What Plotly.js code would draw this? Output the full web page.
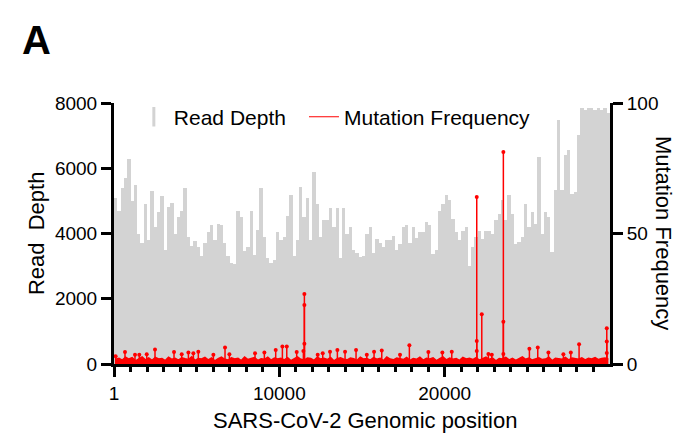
<!DOCTYPE html>
<html>
<head>
<meta charset="utf-8">
<script src="https://cdn.plot.ly/plotly-3.0.1.min.js"></script>
<style>html,body{margin:0;padding:0;background:#fff;}#chart{width:677px;height:438px;}</style>
</head>
<body>
<div id="chart"></div>
<script>
// Read depth, 200 bp bins starting at position 0
const binStart = 100;
const binWidth = 200;
const readDepth = [
5100,4700,5380,5700,6280,5000,5500,4000,3720,4900,
3800,5300,4200,4650,5140,3500,4800,4920,4000,4500,
4700,5400,3900,3630,3780,3600,3300,3700,4050,4250,
3800,4300,4250,3700,3300,3100,3050,4700,4500,3450,
3600,4680,3350,4100,5380,3900,3250,3100,3200,4050,
3800,3900,4540,5170,3300,3800,5420,4500,5100,3800,
5880,4900,3900,4400,4400,4770,4200,4770,3250,4770,
4000,4200,3500,3400,3270,3300,4000,4200,3400,3840,
3700,3580,3790,3800,3910,3500,3680,4200,4250,3700,
4200,3850,4040,4040,4350,4250,3380,3500,4700,4890,
5190,5020,4450,4040,3790,4090,4200,3000,3580,3900,
4090,3840,4090,4090,3990,4400,4600,5020,4400,5170,
4600,3680,3730,3900,4890,4200,4660,4300,6350,4000,
4660,4500,3430,5340,7480,5320,6400,6550,5220,5270,
7020,7840,7800,7840,7840,7800,7840,7790,7840,7700
];

// Background mutation frequency (%) in the same bins
const mutBase = [
1.8,2.2,1.5,2.6,1.9,2.4,1.2,2.0,2.7,1.6,
2.3,1.4,2.5,1.9,2.1,1.3,2.6,1.8,2.2,1.5,
2.4,2.0,1.7,2.8,1.4,2.1,1.9,2.5,1.6,2.3,
1.2,2.0,2.6,1.8,1.5,2.4,1.9,2.2,1.3,2.7,
1.7,2.1,2.5,1.4,2.0,1.8,2.6,1.5,2.3,1.9,
2.2,1.6,2.4,1.3,2.0,2.7,1.8,1.5,2.3,2.1,
1.4,2.6,1.9,2.2,1.7,2.5,1.2,2.0,2.4,1.8,
1.6,2.3,2.0,1.4,2.6,1.9,2.1,1.5,2.4,1.8,
2.2,1.3,2.7,1.9,1.6,2.3,2.0,1.7,2.5,1.4,
2.1,1.8,2.6,1.5,2.2,1.9,2.4,1.3,2.0,2.7,
1.6,2.3,1.8,2.1,1.4,2.5,1.9,2.2,1.7,2.4,
1.5,2.0,2.6,1.8,2.3,1.2,2.1,1.9,2.5,1.6,
2.2,1.4,2.0,2.7,1.8,2.3,1.5,2.1,2.4,1.7,
1.9,2.6,1.3,2.2,2.0,1.8,2.5,1.6,2.3,2.1,
1.8,2.4,1.6,2.2,1.9,2.5,1.7,2.1,2.3,1.9
];

// Mutation frequency peaks (position, %)
const peakPos = [100,665,1270,1530,1980,2480,3630,4095,4500,4800,5100,6010,6715,6980,8530,9095,9780,10185,10450,11050,11455,
11515,11515,11515,12320,12625,13065,13510,13975,14640,15290,15730,16195,17300,17865,19015,19860,20430,
21940,21940,21940,22245,22645,22850,23550,23550,23550,25125,25630,26275,27180,27630,28130,29805,29805,29805];
const peakFreq = [3.0,4.6,3.5,3.5,3.7,5.6,4.6,3.7,4.4,4.1,4.7,3.5,6.3,3.7,4.1,4.4,5.4,6.7,6.7,4.6,5.0,
26.8,22.6,7.8,3.5,4.1,4.7,5.4,4.7,5.4,3.5,4.7,5.2,3.5,7.2,4.6,4.4,4.7,
64.0,8.8,5.0,19.1,3.8,3.5,81.2,16.2,3.8,5.8,6.3,4.4,3.7,4.4,7.6,13.7,8.6,4.2];

const xTickVals = [1,10000,20000];
const xTickText = ['1','10000','20000'];
const yTickVals = [0,2000,4000,6000,8000];
const y2TickVals = [0,50,100];

const FONT = 'Liberation Sans, Arial, Helvetica, sans-serif';
const RED = '#ff0000';
const GRAY = '#d3d3d3';

const stemX = [], stemY = [];
peakPos.forEach((p,i)=>{ stemX.push(p,p,null); stemY.push(0,peakFreq[i],null); });

const minorVals = [];
for (let v = 1000; v < 30000; v += 1000) minorVals.push(v);

const traces = [
  {type:'bar', x0:binStart, dx:binWidth, y:readDepth, marker:{color:GRAY, line:{width:0}},
   showlegend:false, hoverinfo:'skip'},
  {type:'scatter', mode:'lines', x0:binStart, dx:binWidth, y:mutBase, yaxis:'y2',
   line:{color:RED, width:1.5}, fill:'tozeroy', fillcolor:RED, showlegend:false},
  {type:'scatter', mode:'lines', x:stemX, y:stemY, yaxis:'y2', line:{color:RED, width:1.5},
   showlegend:false, connectgaps:false},
  {type:'scatter', mode:'markers', x:peakPos, y:peakFreq, yaxis:'y2',
   marker:{color:RED, size:4}, showlegend:false},
  {type:'scatter', mode:'markers', x:[null], y:[null], name:'Read Depth', legend:'legend',
   marker:{symbol:'line-ns', size:14, line:{color:GRAY, width:3}, color:GRAY}},
  {type:'scatter', mode:'lines', x:[null], y:[null], yaxis:'y2', name:'Mutation Frequency', legend:'legend2',
   line:{color:RED, width:1.2}}
];

const axisCommon = {
  showline:true, linewidth:3, linecolor:'#000', ticks:'outside', ticklen:10, tickwidth:3,
  tickcolor:'#000', showgrid:false, zeroline:false, tickfont:{family:FONT, size:19, color:'#000'}
};

const legendCommon = {orientation:'h', xanchor:'left', y:0.946, yanchor:'middle',
  font:{family:FONT, size:21, color:'#000'}, bgcolor:'rgba(0,0,0,0)'};

const layout = {
  width:677, height:438,
  margin:{l:114, r:67, t:103, b:74},
  paper_bgcolor:'#fff', plot_bgcolor:'#fff',
  bargap:0,
  font:{family:FONT, color:'#000'},
  xaxis:Object.assign({}, axisCommon, {
    range:[0,30000], tickmode:'array', tickvals:xTickVals, ticktext:xTickText,
    minor:{tickmode:'array', tickvals:minorVals, ticks:'outside', ticklen:5, tickwidth:3, tickcolor:'#000', showgrid:false}
  }),
  yaxis:Object.assign({}, axisCommon, {range:[0,8000], tickmode:'array', tickvals:yTickVals}),
  yaxis2:Object.assign({}, axisCommon, {range:[0,100], overlaying:'y', side:'right', tickmode:'array', tickvals:y2TickVals}),
  showlegend:true,
  legend:Object.assign({}, legendCommon, {x:0.04}),
  legend2:Object.assign({}, legendCommon, {x:0.383}),
  annotations:[
    {text:'A', xref:'paper', yref:'paper', x:-0.19, y:1.241, xanchor:'left', yanchor:'middle',
     showarrow:false, font:{family:FONT, size:40, weight:'bold', color:'#000'}},
    {text:'Read  Depth', xref:'paper', yref:'paper', x:-0.155, y:0.502, xanchor:'center', yanchor:'middle',
     textangle:-90, showarrow:false, font:{family:FONT, size:22, color:'#000'}},
    {text:'Mutation Frequency', xref:'paper', yref:'paper', x:1.107, y:0.502, xanchor:'center', yanchor:'middle',
     textangle:90, showarrow:false, font:{family:FONT, size:22, color:'#000'}},
    {text:'SARS-CoV-2 Genomic position', xref:'paper', yref:'paper', x:0.506, y:-0.2146, xanchor:'center', yanchor:'middle',
     showarrow:false, font:{family:FONT, size:22, color:'#000'}}
  ]
};

Plotly.newPlot('chart', traces, layout, {displayModeBar:false, staticPlot:true});
</script>
</body>
</html>
